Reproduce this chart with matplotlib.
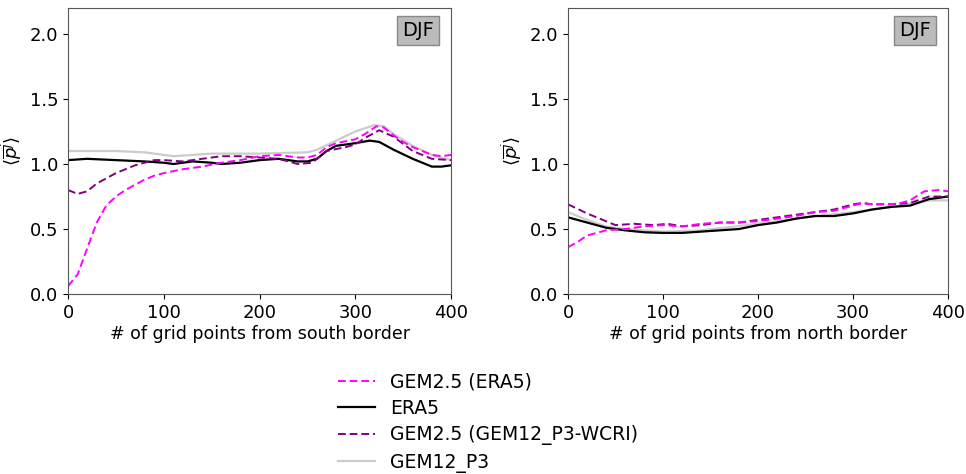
import matplotlib
matplotlib.use("Agg")
import matplotlib.pyplot as plt

# ---- data: left panel (south border) ----
xs_mag_L = [0, 10, 20, 30, 40, 50, 60, 70, 80, 90, 100, 120, 140, 160, 180, 200, 220, 240, 250, 260, 270, 280, 300, 310, 322, 330, 340, 350, 360, 370, 380, 390, 400]
mag_L = [0.06, 0.15, 0.35, 0.55, 0.68, 0.75, 0.80, 0.84, 0.88, 0.91, 0.93, 0.96, 0.98, 1.01, 1.03, 1.06, 1.07, 1.05, 1.05, 1.07, 1.13, 1.16, 1.19, 1.23, 1.29, 1.28, 1.22, 1.17, 1.13, 1.10, 1.07, 1.06, 1.07]

xs_blk_L = [0, 20, 50, 80, 100, 110, 130, 150, 160, 180, 200, 220, 240, 250, 260, 270, 280, 300, 315, 325, 340, 360, 380, 390, 400]
blk_L = [1.03, 1.04, 1.03, 1.02, 1.01, 1.00, 1.02, 1.01, 1.00, 1.01, 1.03, 1.04, 1.02, 1.02, 1.04, 1.10, 1.14, 1.16, 1.18, 1.17, 1.11, 1.04, 0.98, 0.98, 0.99]

xs_pur_L = [0, 10, 20, 30, 50, 70, 90, 100, 120, 140, 160, 180, 200, 220, 240, 255, 270, 290, 300, 310, 325, 340, 360, 380, 400]
pur_L = [0.80, 0.77, 0.79, 0.85, 0.93, 0.99, 1.03, 1.03, 1.02, 1.04, 1.06, 1.06, 1.05, 1.04, 1.00, 1.01, 1.10, 1.13, 1.15, 1.20, 1.26, 1.21, 1.10, 1.04, 1.03]

xs_gry_L = [0, 50, 80, 100, 110, 130, 150, 200, 250, 260, 280, 300, 320, 330, 340, 360, 380, 400]
gry_L = [1.10, 1.10, 1.09, 1.07, 1.06, 1.07, 1.08, 1.08, 1.09, 1.11, 1.18, 1.25, 1.30, 1.29, 1.23, 1.14, 1.07, 1.03]

# ---- data: right panel (north border) ----
xs_blk_R = [0, 20, 40, 60, 80, 100, 120, 140, 160, 180, 200, 220, 240, 260, 280, 300, 320, 340, 360, 380, 400]
blk_R = [0.59, 0.55, 0.51, 0.49, 0.475, 0.47, 0.47, 0.48, 0.49, 0.50, 0.53, 0.55, 0.58, 0.60, 0.60, 0.62, 0.65, 0.67, 0.68, 0.73, 0.75]

xs_gry_R = [0, 20, 40, 60, 100, 140, 200, 250, 300, 340, 380, 400]
gry_R = [0.63, 0.57, 0.52, 0.50, 0.48, 0.49, 0.54, 0.59, 0.63, 0.67, 0.72, 0.72]

xs_pur_R = [0, 20, 40, 50, 70, 90, 105, 120, 140, 160, 180, 200, 220, 240, 260, 280, 300, 310, 320, 340, 360, 380, 400]
pur_R = [0.69, 0.62, 0.56, 0.53, 0.54, 0.53, 0.54, 0.52, 0.53, 0.55, 0.55, 0.57, 0.59, 0.61, 0.63, 0.65, 0.69, 0.70, 0.69, 0.69, 0.70, 0.75, 0.75]

xs_mag_R = [0, 10, 20, 40, 60, 80, 100, 120, 140, 160, 180, 200, 220, 240, 260, 280, 300, 310, 320, 340, 350, 360, 375, 390, 400]
mag_R = [0.36, 0.40, 0.45, 0.49, 0.50, 0.52, 0.53, 0.52, 0.54, 0.55, 0.55, 0.56, 0.58, 0.60, 0.63, 0.64, 0.68, 0.70, 0.69, 0.69, 0.70, 0.72, 0.79, 0.80, 0.79]

labels = ["GEM2.5 (ERA5)", "ERA5", "GEM2.5 (GEM12_P3-WCRI)", "GEM12_P3"]
xlabels = ["# of grid points from south border", "# of grid points from north border"]
season = "DJF"
yticks = [0.0, 0.5, 1.0, 1.5, 2.0]
xticks = [0, 100, 200, 300, 400]

fig = plt.figure(figsize=(9.66, 4.74), dpi=100)
axL = fig.add_axes([0.0704, 0.3797, 0.3965, 0.6034])
axR = fig.add_axes([0.588, 0.3797, 0.3934, 0.6034])

panels = [
    (axL, (xs_mag_L, mag_L), (xs_blk_L, blk_L), (xs_pur_L, pur_L), (xs_gry_L, gry_L), xlabels[0]),
    (axR, (xs_mag_R, mag_R), (xs_blk_R, blk_R), (xs_pur_R, pur_R), (xs_gry_R, gry_R), xlabels[1]),
]

handles = None
for ax, m, b, p, g, xl in panels:
    hg, = ax.plot(g[0], g[1], color="#cccccc", lw=1.6, label=labels[3])
    hb, = ax.plot(b[0], b[1], color="black", lw=1.6, label=labels[1])
    hp, = ax.plot(p[0], p[1], color="#800080", lw=1.4, ls=(0, (4, 2)), label=labels[2])
    hm, = ax.plot(m[0], m[1], color="#ff00ff", lw=1.4, ls=(0, (4, 2)), label=labels[0])
    handles = [hm, hb, hp, hg]
    ax.set_xlim(0, 400)
    ax.set_ylim(0, 2.2)
    ax.set_xticks(xticks)
    ax.set_yticks(yticks)
    ax.tick_params(labelsize=13)
    ax.set_xlabel(xl, fontsize=12.5, labelpad=2)
    ax.set_ylabel(r"$\langle\overline{p}^{j}\rangle$", fontsize=13)
    for s in ax.spines.values():
        s.set_color("#555555")
    ax.text(0.955, 0.955, season, transform=ax.transAxes, ha="right", va="top",
            fontsize=14, bbox=dict(boxstyle="square,pad=0.25", facecolor="#bbbbbb", edgecolor="#888888"))

fig.legend(handles, labels, loc="upper center", bbox_to_anchor=(0.505, 0.25),
           frameon=False, fontsize=13.5, handlelength=2.0, labelspacing=0.4)

fig.savefig("out.png", dpi=100)
